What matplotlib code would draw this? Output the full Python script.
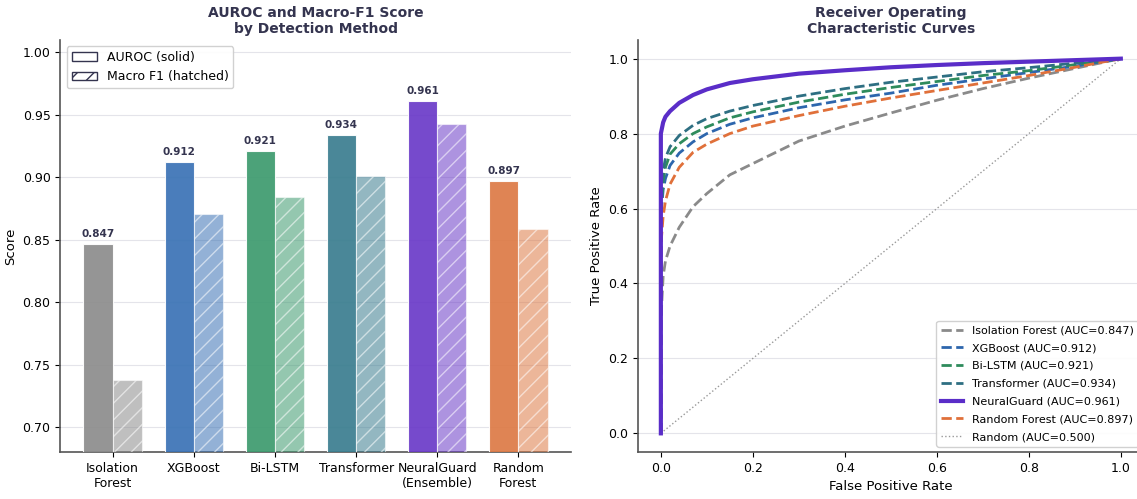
import numpy as np
import matplotlib
matplotlib.use("Agg")
import matplotlib.pyplot as plt
from matplotlib.patches import Patch

# 막대 차트 데이터
methods = ["Isolation\nForest", "XGBoost", "Bi-LSTM", "Transformer", "NeuralGuard\n(Ensemble)", "Random\nForest"]
auroc = [0.847, 0.912, 0.921, 0.934, 0.961, 0.897]
macro_f1 = [0.738, 0.871, 0.884, 0.901, 0.943, 0.859]
bar_colors = ["#8c8c8c", "#3a72b5", "#3d9a6e", "#3a7d8f", "#6a3ac8", "#dd7a45"]

# ROC 곡선 데이터
fpr = [0.0, 0.0, 0.005, 0.01, 0.02, 0.04, 0.07, 0.1, 0.15, 0.2, 0.3, 0.4, 0.5, 0.6, 0.7, 0.8, 0.9, 1.0]
tpr_iso = [0.0, 0.30, 0.42, 0.46, 0.50, 0.55, 0.605, 0.64, 0.69, 0.72, 0.78, 0.82, 0.855, 0.889, 0.92, 0.948, 0.974, 1.0]
tpr_xgb = [0.0, 0.58, 0.65, 0.68, 0.715, 0.748, 0.778, 0.80, 0.825, 0.842, 0.869, 0.890, 0.908, 0.929, 0.946, 0.963, 0.98, 1.0]
tpr_lstm = [0.0, 0.60, 0.675, 0.71, 0.745, 0.773, 0.80, 0.818, 0.842, 0.858, 0.884, 0.905, 0.923, 0.939, 0.955, 0.968, 0.984, 1.0]
tpr_trans = [0.0, 0.62, 0.70, 0.735, 0.765, 0.795, 0.822, 0.84, 0.86, 0.875, 0.90, 0.92, 0.937, 0.951, 0.965, 0.976, 0.988, 1.0]
tpr_ng = [0.0, 0.80, 0.83, 0.845, 0.86, 0.882, 0.903, 0.918, 0.935, 0.945, 0.960, 0.969, 0.977, 0.983, 0.988, 0.992, 0.996, 1.0]
tpr_rf = [0.0, 0.50, 0.58, 0.62, 0.665, 0.71, 0.75, 0.772, 0.80, 0.82, 0.848, 0.873, 0.895, 0.915, 0.935, 0.955, 0.977, 1.0]

roc_names = ["Isolation Forest", "XGBoost", "Bi-LSTM", "Transformer", "NeuralGuard", "Random Forest"]
roc_tprs = [tpr_iso, tpr_xgb, tpr_lstm, tpr_trans, tpr_ng, tpr_rf]
roc_colors = ["#8a8a8a", "#2d66ad", "#2e8b5c", "#2e6f82", "#5a2dc8", "#e0703a"]

navy = "#34344f"

fig = plt.figure(figsize=(11.37, 4.99), dpi=100)
ax1 = fig.add_axes([0.053, 0.094, 0.449, 0.826])
ax2 = fig.add_axes([0.561, 0.094, 0.445, 0.826])

# 왼쪽: 막대 차트
x = np.arange(len(methods))
w = 0.36
for i in range(len(methods)):
    ax1.bar(x[i] - w / 2, auroc[i], w, color=bar_colors[i], alpha=0.92, edgecolor="white", linewidth=0.8, zorder=3)
    ax1.bar(x[i] + w / 2, macro_f1[i], w, color=bar_colors[i], alpha=0.55, edgecolor="white", linewidth=0.8,
            hatch="//", zorder=3)
    ax1.text(x[i] - w / 2, auroc[i] + 0.004, f"{auroc[i]:.3f}", ha="center", va="bottom",
             fontsize=7.5, fontweight="bold", color=navy)

ax1.set_ylim(0.68, 1.01)
ax1.set_xticks(x)
ax1.set_xticklabels(methods, fontsize=9)
ax1.set_ylabel("Score", fontsize=9.5)
ax1.tick_params(axis="y", labelsize=9)
ax1.set_title("AUROC and Macro-F1 Score\nby Detection Method", fontsize=10, fontweight="bold", color=navy, pad=5)
ax1.grid(axis="y", color="#e4e4ea", linewidth=0.8, zorder=0)
ax1.set_axisbelow(True)
handles = [Patch(facecolor="white", edgecolor=navy, label="AUROC (solid)"),
           Patch(facecolor="white", edgecolor=navy, hatch="//", label="Macro F1 (hatched)")]
ax1.legend(handles=handles, loc="upper left", fontsize=9, framealpha=0.9)

# 오른쪽: ROC 곡선
for name, tpr, auc_val, c in zip(roc_names, roc_tprs, auroc, roc_colors):
    if name == "NeuralGuard":
        ax2.plot(fpr, tpr, color=c, linewidth=3, label=f"{name} (AUC={auc_val:.3f})", zorder=4)
    else:
        ax2.plot(fpr, tpr, color=c, linewidth=2, linestyle="--", label=f"{name} (AUC={auc_val:.3f})", zorder=3)
ax2.plot([0, 1], [0, 1], color="#999999", linestyle=":", linewidth=1, label="Random (AUC=0.500)")

ax2.set_xlim(-0.05, 1.05)
ax2.set_ylim(-0.05, 1.05)
ax2.set_xlabel("False Positive Rate", fontsize=9.5)
ax2.set_ylabel("True Positive Rate", fontsize=9.5)
ax2.tick_params(labelsize=9)
ax2.set_title("Receiver Operating\nCharacteristic Curves", fontsize=10, fontweight="bold", color=navy, pad=5)
ax2.grid(axis="y", color="#e4e4ea", linewidth=0.8, zorder=0)
ax2.legend(loc="lower right", fontsize=8, labelspacing=0.7, handlelength=2.0, framealpha=0.9)

for ax in (ax1, ax2):
    ax.spines["top"].set_visible(False)
    ax.spines["right"].set_visible(False)
    ax.spines["left"].set_color("#555555")
    ax.spines["bottom"].set_color("#555555")
    ax.spines["left"].set_linewidth(1.2)
    ax.spines["bottom"].set_linewidth(1.2)

fig.savefig("out.png", dpi=100)
